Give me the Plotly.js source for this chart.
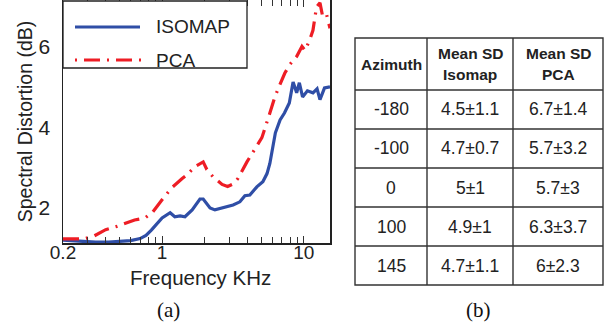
<!DOCTYPE html>
<html>
<head>
<meta charset="utf-8">
<script src="https://cdn.plot.ly/plotly-3.0.1.min.js"></script>
<style>html,body{margin:0;padding:0;background:#fff;}#chart{width:605px;height:330px;}</style>
</head>
<body>
<div id="chart"></div>
<script>
// ---- data ----
const isomapFreq = [0.2, 0.27, 0.34, 0.42, 0.5, 0.6, 0.7, 0.77, 0.84, 0.92, 1.0, 1.14, 1.23, 1.34, 1.45, 1.63, 1.85, 1.95, 2.18, 2.36, 2.69, 3.17, 3.54, 3.84, 4.16, 4.66, 5.14, 5.5, 5.76, 6.07, 6.3, 6.8, 7.3, 7.9, 8.4, 8.9, 9.3, 9.8, 10.6, 11.6, 12.4, 13.0, 14.0, 15.3];
const isomapSD   = [1.2, 1.17, 1.15, 1.15, 1.16, 1.19, 1.24, 1.32, 1.45, 1.62, 1.75, 1.88, 1.78, 1.8, 1.78, 1.95, 2.22, 2.22, 2.0, 1.95, 2.0, 2.07, 2.15, 2.3, 2.32, 2.52, 2.65, 2.85, 3.1, 3.5, 3.86, 4.18, 4.35, 4.6, 5.12, 4.85, 5.1, 4.75, 4.9, 4.85, 4.95, 4.68, 4.97, 5.0];
const pcaFreq    = [0.2, 0.28, 0.33, 0.4, 0.47, 0.55, 0.64, 0.76, 0.86, 1.0, 1.17, 1.38, 1.5, 1.7, 1.95, 2.07, 2.29, 2.65, 2.9, 3.2, 3.43, 3.97, 4.4, 5.06, 5.76, 6.25, 6.77, 7.35, 7.96, 8.9, 9.7, 10.2, 11.0, 11.6, 12.3, 13.0, 13.6, 14.5, 15.3];
const pcaSD      = [1.23, 1.23, 1.3, 1.46, 1.53, 1.62, 1.7, 1.75, 1.9, 2.2, 2.5, 2.72, 2.82, 3.02, 3.14, 2.95, 2.77, 2.58, 2.53, 2.6, 2.73, 3.14, 3.4, 3.74, 4.35, 4.75, 5.05, 5.34, 5.55, 5.75, 6.0, 5.9, 6.16, 6.4, 6.98, 7.08, 6.73, 6.78, 6.45];
const seriesNames = ['ISOMAP', 'PCA'];

const xTickVals = [0.2, 1, 10];
const xTickText = ['0.2', '1', '10'];
const xMinorVals = [0.3, 0.4, 0.5, 0.6, 0.7, 0.8, 0.9, 2, 3, 4, 5, 6, 7, 8, 9];
const yTickVals = [2, 4, 6];
const xTitle = 'Frequency KHz';
const yTitle = 'Spectral Distortion (dB)';

const tableHeader = [['Azimuth'], ['Mean SD', 'Isomap'], ['Mean SD', 'PCA']];
const azimuths   = ['-180', '-100', '0', '100', '145'];
const isomapMean = ['4.5±1.1', '4.7±0.7', '5±1', '4.9±1', '4.7±1.1'];
const pcaMean    = ['6.7±1.4', '5.7±3.2', '5.7±3', '6.3±3.7', '6±2.3'];

// ---- styling ----
const W = 605, H = 330;
const BLUE = '#2f4ea6', RED = '#ee1d25';
const FONT = 'Liberation Sans, Arial, sans-serif';
const PCA_DASH = '16px,7px,2px,7px';
const px = v => v / W, py = v => 1 - v / H;

const traces = [
  {x: isomapFreq, y: isomapSD, name: seriesNames[0], type: 'scatter', mode: 'lines',
   line: {color: BLUE, width: 3.2}},
  {x: pcaFreq, y: pcaSD, name: seriesNames[1], type: 'scatter', mode: 'lines',
   line: {color: RED, width: 3.2, dash: PCA_DASH}}
];

const shapes = [];
const annotations = [];
const txt = (x, y, text, size, extra) => Object.assign({xref: 'paper', yref: 'paper', x: px(x), y: py(y),
  xanchor: 'center', yanchor: 'middle', text: text, showarrow: false,
  font: {family: FONT, size: size, color: '#222'}}, extra || {});

// legend (drawn as decoration)
shapes.push(
  {type: 'rect', xref: 'paper', yref: 'paper', x0: px(63), x1: px(247), y0: py(68), y1: py(1),
   line: {color: '#222', width: 1.3}, fillcolor: '#fff', layer: 'above'},
  {type: 'line', xref: 'paper', yref: 'paper', x0: px(75), x1: px(140), y0: py(27), y1: py(27),
   line: {color: BLUE, width: 3.2}, layer: 'above'},
  {type: 'line', xref: 'paper', yref: 'paper', x0: px(75), x1: px(143), y0: py(60), y1: py(60),
   line: {color: RED, width: 3.2, dash: '2px,7px,16px,7px'}, layer: 'above'});
annotations.push(txt(154, 27, seriesNames[0], 19, {xanchor: 'left'}),
                 txt(154, 60, seriesNames[1], 19, {xanchor: 'left'}));

// x-axis title
annotations.push(txt(200, 277, xTitle, 20.5));

// table (b)
const colEdges = [355, 427, 513, 603];
const tTop = 38, headH = 52, rowH = 39;
const columns = [azimuths, isomapMean, pcaMean];
const nRows = azimuths.length;
const tBottom = tTop + headH + nRows * rowH;
const lineStyle = {color: '#333', width: 1.4};
shapes.push({type: 'rect', xref: 'paper', yref: 'paper', x0: px(colEdges[0]), x1: px(colEdges[3]),
             y0: py(tBottom), y1: py(tTop), line: lineStyle});
for (let c = 1; c < colEdges.length - 1; c++)
  shapes.push({type: 'line', xref: 'paper', yref: 'paper', x0: px(colEdges[c]), x1: px(colEdges[c]),
               y0: py(tBottom), y1: py(tTop), line: lineStyle});
for (let r = 0; r < nRows; r++) {
  const yl = tTop + headH + r * rowH;
  shapes.push({type: 'line', xref: 'paper', yref: 'paper', x0: px(colEdges[0]), x1: px(colEdges[3]),
               y0: py(yl), y1: py(yl), line: lineStyle});
}
for (let c = 0; c < columns.length; c++) {
  const cx = (colEdges[c] + colEdges[c + 1]) / 2;
  const lines = tableHeader[c];
  lines.forEach((t, i) => {
    const cy = tTop + headH / 2 + (i - (lines.length - 1) / 2) * 21;
    annotations.push(txt(cx, cy, '<b>' + t + '</b>', 15.5));
  });
  columns[c].forEach((t, r) => {
    annotations.push(txt(cx, tTop + headH + r * rowH + rowH / 2, t, 17.5));
  });
}

// captions
annotations.push(
  txt(168, 310, '(a)', 21, {font: {family: 'Liberation Serif, Times New Roman, serif', size: 21, color: '#111'}}),
  txt(478, 310, '(b)', 21, {font: {family: 'Liberation Serif, Times New Roman, serif', size: 21, color: '#111'}}));

const layout = {
  width: W, height: H,
  margin: {l: 0, r: 0, t: 0, b: 0},
  paper_bgcolor: '#fff', plot_bgcolor: '#fff',
  showlegend: false,
  font: {family: FONT, color: '#222'},
  xaxis: {type: 'log', domain: [px(63), px(330)], range: [Math.log10(0.2), Math.log10(15.3)],
          tickmode: 'array', tickvals: xTickVals, ticktext: xTickText,
          ticks: 'inside', ticklen: 7, tickcolor: '#333', tickwidth: 1,
          minor: {tickmode: 'array', tickvals: xMinorVals, ticks: 'inside', ticklen: 6, tickcolor: '#333'},
          showline: true, linecolor: '#222', linewidth: 1.5, mirror: 'ticks',
          ticklabelstandoff: -8,
          showgrid: false, zeroline: false, automargin: false,
          tickfont: {size: 19, color: '#222'}},
  yaxis: {domain: [py(243), py(0)], range: [1.13, 7.15],
          tickmode: 'array', tickvals: yTickVals, ticks: '', ticklabelstandoff: 7,
          showline: true, linecolor: '#222', linewidth: 1.5, mirror: true,
          showgrid: false, zeroline: false, automargin: false,
          tickfont: {size: 21, color: '#222'},
          title: {text: yTitle, font: {size: 19.5, color: '#222'}, standoff: 1}},
  shapes: shapes,
  annotations: annotations
};

Plotly.newPlot('chart', traces, layout, {staticPlot: true, displayModeBar: false});
</script>
</body>
</html>
